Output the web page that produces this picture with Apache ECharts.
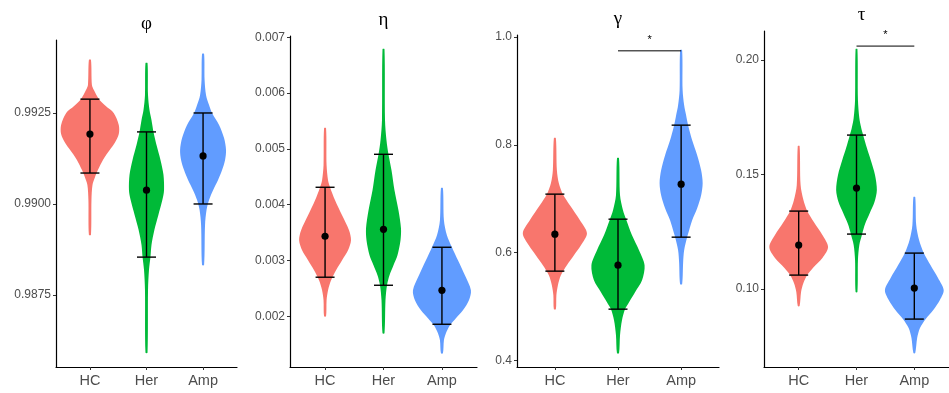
<!DOCTYPE html>
<html>
<head>
<meta charset="utf-8">
<script src="https://cdn.jsdelivr.net/npm/echarts@6/dist/echarts.min.js"></script>
<style>html,body{margin:0;padding:0;background:#fff}#main{width:949px;height:393px}</style>
</head>
<body>
<div id="main"></div>
<script>
var groups = ['HC', 'Her', 'Amp'];
var colors = ['#F8766D', '#00BA38', '#619CFF'];
var titles = ['φ', 'η', 'γ', 'τ'];

// violin outlines: y levels and half widths (category units), one array per group
var phiLevels = [
    [0.99396, 0.99327, 0.99313, 0.99288, 0.99269, 0.99250, 0.99217, 0.99192, 0.99168, 0.99148, 0.99121, 0.99093, 0.99074, 0.99052, 0.99011, 0.98915],
    [0.99387, 0.99299, 0.99258, 0.99231, 0.99198, 0.99162, 0.99121, 0.99080, 0.99038, 0.99011, 0.98970, 0.98929, 0.98887, 0.98854, 0.98819, 0.98764, 0.98591],
    [0.99412, 0.99341, 0.99299, 0.99272, 0.99250, 0.99217, 0.99181, 0.99148, 0.99121, 0.99093, 0.99066, 0.99038, 0.99011, 0.98984, 0.98942, 0.98832]
];
var phiWidths = [
    [0.018, 0.035, 0.07, 0.16, 0.28, 0.42, 0.51, 0.51, 0.44, 0.35, 0.23, 0.14, 0.09, 0.045, 0.027, 0.018],
    [0.018, 0.027, 0.053, 0.088, 0.124, 0.177, 0.247, 0.30, 0.31, 0.28, 0.21, 0.14, 0.088, 0.07, 0.044, 0.027, 0.018],
    [0.018, 0.027, 0.053, 0.106, 0.159, 0.283, 0.371, 0.406, 0.389, 0.336, 0.265, 0.177, 0.106, 0.062, 0.035, 0.018]
];
var phiMean = [0.99192, 0.99038, 0.99132];
var phiLow = [0.99085, 0.98854, 0.99000];
var phiHigh = [0.99288, 0.99198, 0.99250];
var phiTicks = [0.9875, 0.9900, 0.9925];

var etaLevels = [
    [0.005369, 0.004706, 0.004437, 0.004312, 0.004079, 0.003810, 0.003541, 0.003362, 0.003183, 0.003004, 0.002824, 0.002645, 0.002466, 0.002287, 0.002000],
    [0.006785, 0.005513, 0.005154, 0.004903, 0.004616, 0.004258, 0.003900, 0.003577, 0.003362, 0.003093, 0.002914, 0.002735, 0.002556, 0.002287, 0.001695],
    [0.004294, 0.003720, 0.003452, 0.003237, 0.003004, 0.002735, 0.002466, 0.002287, 0.002108, 0.001964, 0.001839, 0.001695, 0.001570, 0.001337]
];
var etaWidths = [
    [0.017, 0.026, 0.051, 0.085, 0.171, 0.291, 0.41, 0.444, 0.393, 0.291, 0.188, 0.103, 0.051, 0.026, 0.017],
    [0.017, 0.026, 0.051, 0.085, 0.137, 0.188, 0.256, 0.299, 0.291, 0.239, 0.171, 0.103, 0.06, 0.034, 0.017],
    [0.017, 0.034, 0.085, 0.171, 0.274, 0.393, 0.496, 0.462, 0.359, 0.239, 0.137, 0.068, 0.034, 0.017]
];
var etaMean = [0.003434, 0.003559, 0.002466];
var etaLow = [0.0027, 0.002556, 0.001857];
var etaHigh = [0.004312, 0.004903, 0.003237];
var etaTicks = [0.002, 0.003, 0.004, 0.005, 0.006, 0.007];

var gammaLevels = [
    [0.8124, 0.7530, 0.7289, 0.7085, 0.6880, 0.6602, 0.6360, 0.6137, 0.5952, 0.5766, 0.5580, 0.5395, 0.5209, 0.4949],
    [0.7753, 0.7066, 0.6787, 0.6620, 0.6323, 0.6045, 0.5766, 0.5487, 0.5265, 0.5079, 0.4949, 0.4745, 0.4466, 0.4132],
    [0.9759, 0.9016, 0.8737, 0.8552, 0.8366, 0.8087, 0.7809, 0.7530, 0.7289, 0.7066, 0.6825, 0.6602, 0.6416, 0.6286, 0.6045, 0.5822, 0.5413]
];
var gammaWidths = [
    [0.016, 0.032, 0.063, 0.127, 0.238, 0.397, 0.508, 0.413, 0.302, 0.19, 0.095, 0.048, 0.024, 0.016],
    [0.016, 0.032, 0.079, 0.127, 0.222, 0.333, 0.421, 0.381, 0.27, 0.175, 0.111, 0.063, 0.032, 0.016],
    [0.016, 0.024, 0.048, 0.079, 0.111, 0.175, 0.254, 0.317, 0.341, 0.317, 0.254, 0.175, 0.127, 0.095, 0.048, 0.032, 0.016]
];
var gammaMean = [0.6342, 0.5766, 0.727];
var gammaLow = [0.5655, 0.4949, 0.6286];
var gammaHigh = [0.7085, 0.662, 0.8366];
var gammaTicks = [0.4, 0.6, 0.8, 1.0];

var tauLevels = [
    [0.16245, 0.14541, 0.13886, 0.13406, 0.12926, 0.12358, 0.11834, 0.11354, 0.10917, 0.10611, 0.10262, 0.09869, 0.09258],
    [0.20480, 0.18253, 0.17467, 0.17031, 0.16725, 0.16157, 0.15633, 0.14978, 0.14323, 0.13799, 0.13319, 0.12838, 0.12402, 0.11921, 0.11266, 0.09869],
    [0.14017, 0.12795, 0.12140, 0.11572, 0.11048, 0.10480, 0.09956, 0.09520, 0.09083, 0.08690, 0.08297, 0.07860, 0.07205]
];
var tauWidths = [
    [0.016, 0.033, 0.082, 0.148, 0.262, 0.41, 0.508, 0.41, 0.246, 0.148, 0.082, 0.041, 0.016],
    [0.016, 0.025, 0.049, 0.082, 0.115, 0.18, 0.246, 0.32, 0.352, 0.311, 0.23, 0.148, 0.098, 0.049, 0.025, 0.016],
    [0.016, 0.033, 0.082, 0.164, 0.279, 0.41, 0.508, 0.443, 0.328, 0.197, 0.098, 0.049, 0.016]
];
var tauMean = [0.11921, 0.14410, 0.10044];
var tauLow = [0.10611, 0.12402, 0.08690];
var tauHigh = [0.13406, 0.16725, 0.11572];
var tauTicks = [0.10, 0.15, 0.20];

// significance brackets: [panel, from group, to group, height]
var sigBars = [
    [2, 'Her', 'Amp', 0.9746],
    [3, 'Her', 'Amp', 0.20611]
];

var panels = [
    {levels: phiLevels, widths: phiWidths, mean: phiMean, low: phiLow, high: phiHigh, ticks: phiTicks, digits: 4,
        box: {left: 56, top: 40, width: 181, height: 327}, ymin: 0.985521, ymax: 0.994505},
    {levels: etaLevels, widths: etaWidths, mean: etaMean, low: etaLow, high: etaHigh, ticks: etaTicks, digits: 3,
        box: {left: 290, top: 36, width: 187, height: 331}, ymin: 0.001091, ymax: 0.007023},
    {levels: gammaLevels, widths: gammaWidths, mean: gammaMean, low: gammaLow, high: gammaHigh, ticks: gammaTicks, digits: 1,
        box: {left: 517, top: 35, width: 202, height: 332}, ymin: 0.3875, ymax: 1.004},
    {levels: tauLevels, widths: tauWidths, mean: tauMean, low: tauLow, high: tauHigh, ticks: tauTicks, digits: 2,
        box: {left: 764, top: 31, width: 195, height: 336}, ymin: 0.06598, ymax: 0.2127}
];

var labelFont = 'Liberation Sans, Arial, sans-serif';
var chart = echarts.init(document.getElementById('main'));

var grid = [], xAxis = [], yAxis = [], series = [], graphic = [];

panels.forEach(function (p, k) {
    grid.push({left: p.box.left, top: p.box.top, width: p.box.width, height: p.box.height, containLabel: false});
    xAxis.push({
        type: 'value', gridIndex: k, min: 0.4, max: 3.6,
        axisLine: {show: true, onZero: false, lineStyle: {color: '#000', width: 1.2}},
        axisTick: {show: true, customValues: [1, 2, 3], length: 3, lineStyle: {color: '#333', width: 1}},
        axisLabel: {
            customValues: [1, 2, 3], margin: 6, color: '#4D4D4D', fontSize: 14.5, fontFamily: labelFont,
            formatter: function (v) { return groups[Math.round(v) - 1]; }
        },
        splitLine: {show: false}
    });
    yAxis.push({
        type: 'value', gridIndex: k, min: p.ymin, max: p.ymax,
        axisLine: {show: true, onZero: false, lineStyle: {color: '#000', width: 1.2}},
        axisTick: {show: true, customValues: p.ticks, length: 3, lineStyle: {color: '#333', width: 1}},
        axisLabel: {
            customValues: p.ticks, margin: 5, color: '#4D4D4D', fontSize: 12, fontFamily: labelFont,
            formatter: function (v) { return v.toFixed(p.digits); }
        },
        splitLine: {show: false}
    });

    var pts = groups.map(function (name, g) { return [g + 1, p.mean[g], g]; });

    series.push({
        type: 'custom', xAxisIndex: k, yAxisIndex: k, silent: true,
        data: pts, encode: {x: 0, y: 1},
        renderItem: function (params, api) {
            var g = api.value(2);
            var lv = p.levels[g], wd = p.widths[g], x0 = g + 1;
            var shape = [];
            for (var i = 0; i < lv.length; i++) shape.push(api.coord([x0 + wd[i], lv[i]]));
            for (var j = lv.length - 1; j >= 0; j--) shape.push(api.coord([x0 - wd[j], lv[j]]));
            return {type: 'polygon', shape: {points: shape, smooth: 0.3}, style: {fill: colors[g]}};
        }
    });

    series.push({
        type: 'custom', xAxisIndex: k, yAxisIndex: k, silent: true,
        data: pts, encode: {x: 0, y: 1},
        renderItem: function (params, api) {
            var g = api.value(2);
            var hi = api.coord([g + 1, p.high[g]]);
            var lo = api.coord([g + 1, p.low[g]]);
            var m = api.coord([g + 1, p.mean[g]]);
            var st = {stroke: '#000', lineWidth: 1.4};
            return {
                type: 'group', children: [
                    {type: 'line', shape: {x1: hi[0], y1: hi[1], x2: lo[0], y2: lo[1]}, style: st},
                    {type: 'line', shape: {x1: hi[0] - 9.5, y1: hi[1], x2: hi[0] + 9.5, y2: hi[1]}, style: st},
                    {type: 'line', shape: {x1: lo[0] - 9.5, y1: lo[1], x2: lo[0] + 9.5, y2: lo[1]}, style: st},
                    {type: 'circle', shape: {cx: m[0], cy: m[1], r: 3.6}, style: {fill: '#000'}}
                ]
            };
        }
    });

    var mid = p.box.left + (2 - 0.4) / 3.2 * p.box.width;
    graphic.push({
        type: 'text', x: mid, y: p.box.top - 16,
        style: {text: titles[k], font: '19px "Liberation Serif", "DejaVu Serif", serif', fill: '#000', align: 'center', verticalAlign: 'middle'}
    });
});

sigBars.forEach(function (s) {
    var k = s[0];
    var a = groups.indexOf(s[1]) + 1, b = groups.indexOf(s[2]) + 1;
    series.push({
        type: 'custom', xAxisIndex: k, yAxisIndex: k, silent: true,
        data: [[a, s[3], b]], encode: {x: 0, y: 1},
        renderItem: function (params, api) {
            var p1 = api.coord([api.value(0), api.value(1)]);
            var p2 = api.coord([api.value(2), api.value(1)]);
            return {
                type: 'group', children: [
                    {type: 'line', shape: {x1: p1[0], y1: p1[1], x2: p2[0], y2: p2[1]}, style: {stroke: '#000', lineWidth: 1}},
                    {type: 'text', x: (p1[0] + p2[0]) / 2, y: p1[1] - 11,
                        style: {text: '*', font: '11px ' + labelFont, fill: '#000', align: 'center', verticalAlign: 'middle'}}
                ]
            };
        }
    });
});

var option = {
    animation: false,
    backgroundColor: '#fff',
    grid: grid,
    xAxis: xAxis,
    yAxis: yAxis,
    series: series,
    graphic: graphic
};

if (option && typeof option === "object") {
    chart.setOption(option, true);
}
</script>
</body>
</html>
